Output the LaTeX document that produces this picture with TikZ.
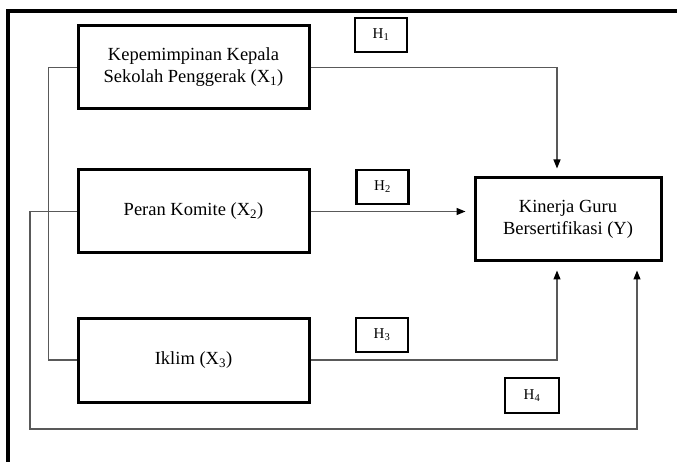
\documentclass[tikz,border=0pt]{standalone}
\usepackage{fontspec}
\setmainfont{Liberation Serif}
\usetikzlibrary{arrows.meta}
\tikzset{
	varbox/.style={draw, line width=3pt, minimum width=231pt, minimum height=83pt, inner sep=0pt, align=center, font=\fontsize{18.5}{22}\selectfont},
	hbox/.style={draw, line width=2.8pt, minimum width=52pt, minimum height=34pt, inner sep=0pt, font=\fontsize{15}{17}\selectfont},
	link/.style={line width=1.3pt, draw=black!65},
	tip/.style={link, -{Triangle[length=9pt,width=7pt,color=black]}, shorten >=8pt},
}

\begin{document}
\begin{tikzpicture}[x=1pt, y=-1pt]
			%%%%% START %%%%%
			\useasboundingbox (0, 0) rectangle (677, 462);
			
			\draw[line width=3.2pt] (677, 11) -- (8, 11) -- (8, 462);
			
			\node[varbox] (x1) at (193.5, 67.5) {Kepemimpinan Kepala\\Sekolah Penggerak (X\textsubscript{1})};
			\node[varbox] (x2) at (193.5, 211.5) {Peran Komite (X\textsubscript{2})};
			\node[varbox, minimum height=84pt] (x3) at (193.5, 360) {Iklim (X\textsubscript{3})};
			\node[varbox, minimum width=186pt] (y) at (568, 219.5) {Kinerja Guru\\Bersertifikasi (Y)};
			
			\node[hbox] (h1) at (381, 35) {H\textsubscript{1}};
			\node[hbox] (h2) at (382.5, 187) {H\textsubscript{2}};
			\node[hbox] (h3) at (382, 335) {H\textsubscript{3}};
			\node[hbox, minimum width=54pt, minimum height=35pt] (h4) at (532, 395.5) {H\textsubscript{4}};
			
			\coordinate (corner) at (30, 429);
			
			\draw[tip] (x1.east) -| ([xshift=-11pt]y.north);
			\draw[tip] (x2.east) -- (x2.east -| y.west);
			\draw[tip] (x3.east) -| ([xshift=-11pt]y.south);
			\draw[link] (x1.west) -- ++(-28, 0) |- (x3.west);
			\draw[tip] (x2.west) -| (corner) -| ([xshift=69pt]y.south);
			
			%%%%% END %%%%%
\end{tikzpicture}
\end{document}
